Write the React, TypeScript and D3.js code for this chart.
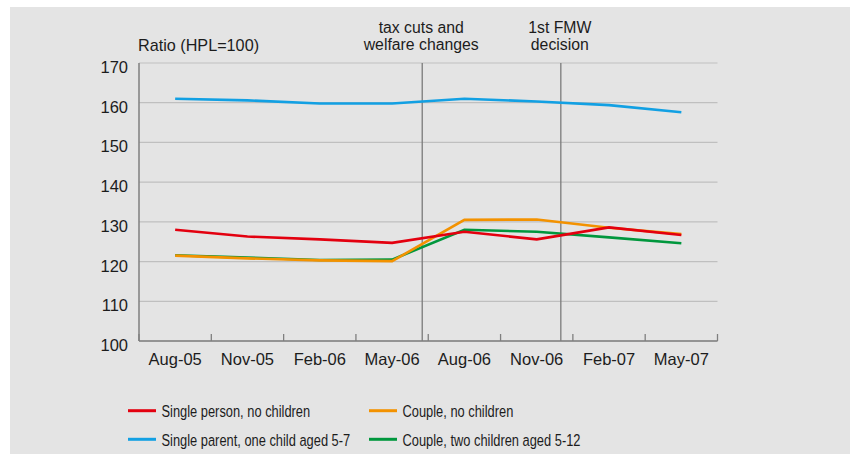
import React from "react";
import * as d3 from "d3";

const categories = ["Aug-05", "Nov-05", "Feb-06", "May-06", "Aug-06", "Nov-06", "Feb-07", "May-07"];
const monthIndex = [0, 3, 6, 9, 12, 15, 18, 21];
const singlePerson = [128.0, 126.3, 125.6, 124.7, 127.5, 125.6, 128.6, 126.7];
const singleParent = [161.0, 160.6, 159.8, 159.8, 161.0, 160.3, 159.4, 157.6];
const coupleNoChildren = [121.5, 120.8, 120.3, 120.1, 130.5, 130.6, 128.5, 126.9];
const coupleTwoChildren = [121.6, 121.0, 120.4, 120.5, 128.0, 127.5, 126.1, 124.6];
const yTicks = [100, 110, 120, 130, 140, 150, 160, 170];
const events = [
  { month: 10.25, lines: ["tax cuts and", "welfare changes"] },
  { month: 16, lines: ["1st FMW", "decision"] },
];

const series = [
  { name: "Couple, two children aged 5-12", values: coupleTwoChildren, color: "#00973d" },
  { name: "Couple, no children", values: coupleNoChildren, color: "#f39200" },
  { name: "Single person, no children", values: singlePerson, color: "#e3000f" },
  { name: "Single parent, one child aged 5-7", values: singleParent, color: "#12a0e3" },
];

const legendItems = [
  { name: "Single person, no children", color: "#e3000f", col: 0, row: 0 },
  { name: "Couple, no children", color: "#f39200", col: 1, row: 0 },
  { name: "Single parent, one child aged 5-7", color: "#12a0e3", col: 0, row: 1 },
  { name: "Couple, two children aged 5-12", color: "#00973d", col: 1, row: 1 },
];

const W = 850;
const H = 455;
const left = 139;
const right = 717.5;
const top = 63;
const bottom = 341;
const FONT = "'Liberation Sans', Arial, Helvetica, sans-serif";
const TEXT = "#1c1c1c";

export default function App() {
  const x = d3.scaleLinear().domain([-1.5, 22.5]).range([left, right]);
  const y = d3.scaleLinear().domain([100, 170]).range([bottom, top]);
  const tickMonths = d3.range(-1.5, 23, 3);
  const line = d3
    .line<number>()
    .x((_, i) => x(monthIndex[i]))
    .y((v) => y(v));

  return (
    <svg
      width={W}
      height={H}
      style={{ position: "absolute", left: 0, top: 0, fontFamily: FONT }}
    >
      <rect x={0} y={0} width={W} height={H} fill="#ffffff" />
      <rect x={10} y={7} width={840} height={447} fill="#e4e4e4" />

      {/* gridlines */}
      {yTicks.map((t) => (
        <line key={"g" + t} x1={left} x2={right} y1={y(t)} y2={y(t)} stroke="#bfbfbf" strokeWidth={1.2} />
      ))}

      {/* y tick labels */}
      {yTicks.map((t) => (
        <text key={"yl" + t} x={128} y={y(t) + 10} textAnchor="end" fontSize={16.5} fill={TEXT}>
          {t}
        </text>
      ))}

      {/* event lines */}
      {events.map((e, i) => (
        <g key={"ev" + i}>
          <line x1={x(e.month)} x2={x(e.month)} y1={top} y2={bottom} stroke="#7a7a7a" strokeWidth={1.3} />
          {e.lines.map((l, j) => (
            <text key={j} x={x(e.month) - 1} y={32.5 + j * 17.5} textAnchor="middle" fontSize={15.8} fill={TEXT}>
              {l}
            </text>
          ))}
        </g>
      ))}

      {/* axes */}
      <line x1={left} x2={left} y1={top} y2={bottom} stroke="#7f7f7f" strokeWidth={1.5} />
      <line x1={left} x2={right} y1={bottom} y2={bottom} stroke="#7f7f7f" strokeWidth={1.5} />
      {tickMonths.map((m, i) => (
        <line key={"t" + i} x1={x(m)} x2={x(m)} y1={bottom} y2={bottom - 7} stroke="#7f7f7f" strokeWidth={1.3} />
      ))}
      {categories.map((c, i) => (
        <text key={"xl" + c} x={x(monthIndex[i])} y={365} textAnchor="middle" fontSize={16.5} fill={TEXT}>
          {c}
        </text>
      ))}

      {/* title */}
      <text x={138} y={51} fontSize={16.2} fill={TEXT}>
        Ratio (HPL=100)
      </text>

      {/* series */}
      {series.map((s) => (
        <path key={s.name} d={line(s.values) || ""} fill="none" stroke={s.color} strokeWidth={2.6} strokeLinejoin="miter" />
      ))}

      {/* legend */}
      {legendItems.map((it) => {
        const sx = it.col === 0 ? 128 : 369;
        const sy = it.row === 0 ? 410.7 : 439.3;
        return (
          <g key={"lg" + it.name}>
            <line x1={sx} x2={sx + 28} y1={sy} y2={sy} stroke={it.color} strokeWidth={3} />
            <g transform={`translate(${sx + 33.5},${sy + 6.3}) scale(0.78,1)`}>
              <text x={0} y={0} fontSize={16.5} fill={TEXT}>
                {it.name}
              </text>
            </g>
          </g>
        );
      })}
    </svg>
  );
}
